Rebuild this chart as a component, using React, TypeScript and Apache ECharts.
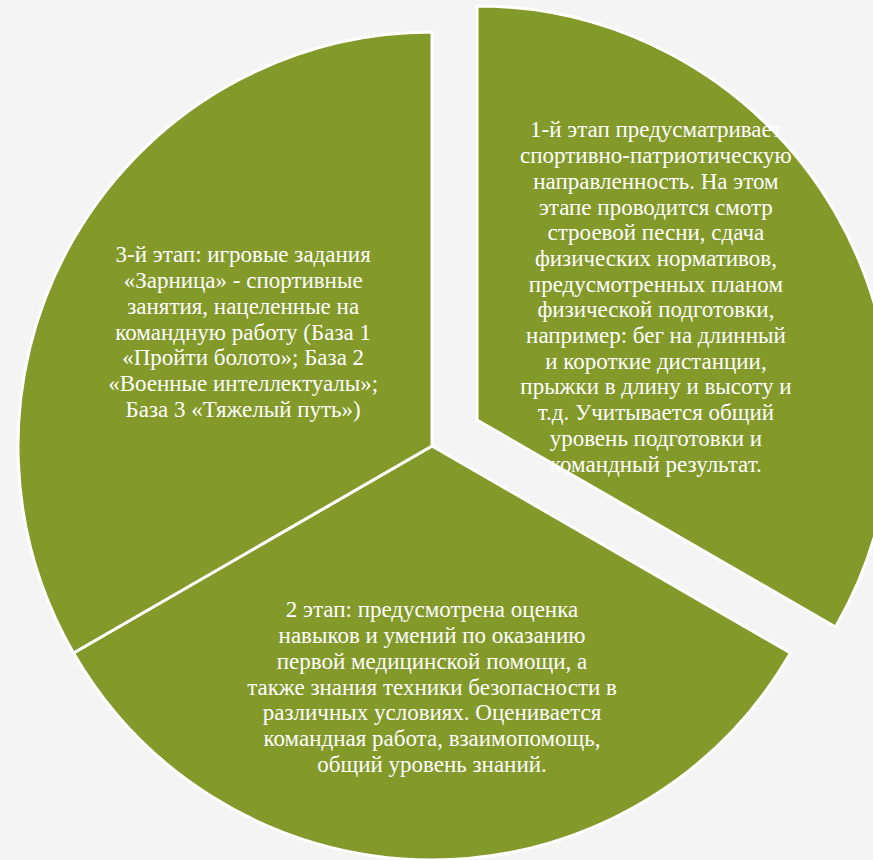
import React, { useEffect, useRef } from "react";
import * as echarts from "echarts";

const stageNames = ["Этап 1", "Этап 2", "Этап 3"];
const stageValues = [1, 1, 1];
const stageSelected = [true, false, false];
const stageTexts = [
  [
    "1-й этап предусматривает",
    "спортивно-патриотическую",
    "направленность. На этом",
    "этапе проводится смотр",
    "строевой песни, сдача",
    "физических нормативов,",
    "предусмотренных планом",
    "физической подготовки,",
    "например: бег на длинный",
    "и короткие дистанции,",
    "прыжки в длину и высоту и",
    "т.д. Учитывается общий",
    "уровень подготовки и",
    "командный результат.",
  ],
  [
    "2 этап: предусмотрена оценка",
    "навыков и умений по оказанию",
    "первой медицинской помощи, а",
    "также знания техники безопасности в",
    "различных условиях. Оценивается",
    "командная работа, взаимопомощь,",
    "общий уровень знаний.",
  ],
  [
    "3-й этап: игровые задания",
    "«Зарница» - спортивные",
    "занятия, нацеленные на",
    "командную работу (База 1",
    "«Пройти болото»; База 2",
    "«Военные интеллектуалы»;",
    "База 3 «Тяжелый путь»)",
  ],
];

const labelShift = [
  [-3, -18],
  [0, 31],
  [-7, -9],
];

const GREEN = "#83992a";

export default function App() {
  const ref = useRef<HTMLDivElement>(null);
  useEffect(() => {
    if (!ref.current) return;
    const chart = echarts.init(ref.current, null, { renderer: "svg" });
    chart.setOption({
      animation: false,
      backgroundColor: "#f4f4f4",
      series: [
        {
          type: "pie",
          center: [432, 446],
          radius: [0, 414],
          startAngle: 90,
          clockwise: true,
          selectedMode: "single",
          selectedOffset: 52,
          avoidLabelOverlap: false,
          itemStyle: { color: GREEN, borderColor: "#ffffff", borderWidth: 3 },
          select: { itemStyle: { color: GREEN, borderColor: "#ffffff", borderWidth: 3 } },
          emphasis: { disabled: true },
          label: {
            show: true,
            position: "inside",
            align: "center",
            color: "#ffffff",
            fontFamily: "'Liberation Serif', 'DejaVu Serif', serif",
            fontSize: 23,
            lineHeight: 25.7,
            formatter: (p: any) => stageTexts[p.dataIndex].join("\n"),
          },
          labelLayout: (p: any) => ({
            dx: labelShift[p.dataIndex][0],
            dy: labelShift[p.dataIndex][1],
          }),
          labelLine: { show: false },
          data: stageNames.map((n, i) => ({
            name: n,
            value: stageValues[i],
            selected: stageSelected[i],
          })),
        },
      ],
    });
    return () => chart.dispose();
  }, []);
  return (
    <div
      ref={ref}
      style={{ position: "absolute", left: 0, top: 0, width: 873, height: 860 }}
    />
  );
}
